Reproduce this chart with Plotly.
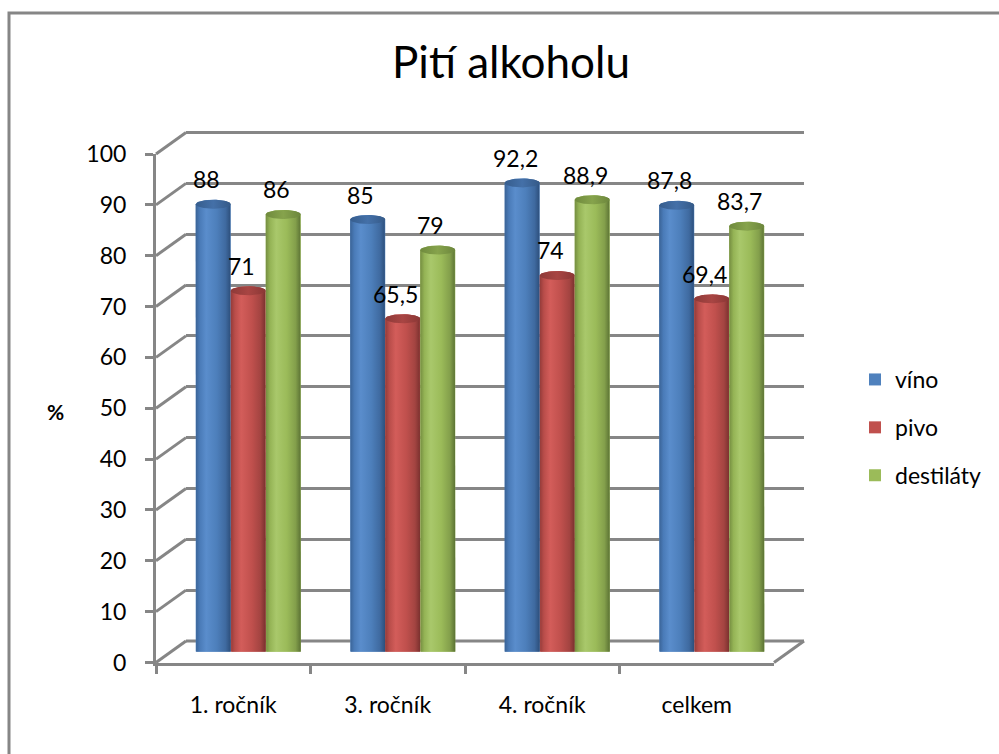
import numpy as np
import plotly.graph_objects as go

# ---- data ----
categories = ["1. ročník", "3. ročník", "4. ročník", "celkem"]
series_names = ["víno", "pivo", "destiláty"]
vino = [88, 85, 92.2, 87.8]
pivo = [71, 65.5, 74, 69.4]
destilaty = [86, 79, 88.9, 83.7]
y_ticks = list(range(0, 101, 10))
title_text = "Pití alkoholu"
y_label = "%"

series_values = [vino, pivo, destilaty]

# ---- styling ----
W, H = 999, 754
FONT = "Lato"
GRAY = "#868686"
BASE_COLORS = ["#4F81BD", "#C0504D", "#9BBB59"]
BODY_SCALES = [
    [[0, "#3a6396"], [0.12, "#4a7bb8"], [0.3, "#5a8dcc"], [0.6, "#4d7fbb"], [0.85, "#3f6aa0"], [1, "#2c4e7a"]],
    [[0, "#933b39"], [0.12, "#b94d4a"], [0.3, "#d35d5a"], [0.6, "#c0504d"], [0.85, "#a34441"], [1, "#79302e"]],
    [[0, "#748d40"], [0.12, "#94b355"], [0.3, "#a9c86b"], [0.6, "#9bbb59"], [0.85, "#839f4b"], [1, "#5b7234"]],
]
CAP_SCALES = [
    [[0, "#365d8d"], [0.5, "#4470a8"], [1, "#355a88"]],
    [[0, "#8e3a38"], [0.5, "#a84543"], [1, "#8a3735"]],
    [[0, "#6f8a3d"], [0.5, "#86a34c"], [1, "#6c863c"]],
]

BARGAP = 0.32
BAR_W = (1 - BARGAP) / len(series_names)   # width of one cylinder in category units
CAP_PX = 4.5                               # half-height of the elliptical caps in pixels

# front plane of the 3-D frame (pixels): left, right, y of 0, y of 100
FX0, FX1, FY0, FY1 = 156, 774, 662.5, 154
DX, DY = 30, -21.5                         # depth offset of the back wall
Y_MAX = 100.0
px_per_unit = (FY0 - FY1) / Y_MAX
cap_units = CAP_PX / px_per_unit


def to_px(x):
    return x / W


def to_py(y):
    return 1 - y / H


def dom_x(shift):
    return [to_px(FX0 + shift), to_px(FX1 + shift)]


def dom_y(shift):
    return [to_py(FY0 + shift), to_py(FY1 + shift)]


def front_y(v):
    """Pixel row of value v on the front plane."""
    return FY0 - v * px_per_unit


fig = go.Figure()

# invisible trace that registers the categories on the front axis
fig.add_trace(go.Scatter(x=categories, y=[0] * len(categories), mode="markers",
                         marker=dict(opacity=0), showlegend=False, hoverinfo="skip",
                         xaxis="x", yaxis="y"))
# empty trace so the back-wall subplot (and its gridlines) gets drawn
fig.add_trace(go.Scatter(x=[None], y=[None], mode="markers", showlegend=False,
                         hoverinfo="skip", xaxis="x2", yaxis="y2"))

# flat bars (legend entries and the base of each cylinder)
for k, (name, vals) in enumerate(zip(series_names, series_values)):
    fig.add_trace(go.Bar(x=list(range(len(categories))), y=vals, name=name,
                         marker=dict(color=BASE_COLORS[k], line=dict(width=0)),
                         offsetgroup=str(k), legendgroup=name,
                         xaxis="x3", yaxis="y3", hoverinfo="skip"))

# cylinder shading
t_top = np.linspace(0, np.pi, 40)
t_bot = np.linspace(np.pi, 2 * np.pi, 40)
t_full = np.linspace(0, 2 * np.pi, 80)
for k, vals in enumerate(series_values):
    hw = BAR_W / 2
    for i, v in enumerate(vals):
        xc = i + (k - 1) * BAR_W
        bx = np.concatenate([[xc + hw], xc + hw * np.cos(t_top), [xc - hw], xc + hw * np.cos(t_bot)])
        by = np.concatenate([[0], v + cap_units * np.sin(t_top), [0], cap_units * np.sin(t_bot)])
        fig.add_trace(go.Scatter(x=bx, y=by, mode="lines", line=dict(width=0),
                                 fill="toself", fillcolor=BASE_COLORS[k],
                                 fillgradient=dict(type="horizontal", colorscale=BODY_SCALES[k]),
                                 showlegend=False, hoverinfo="skip", xaxis="x3", yaxis="y3"))
        cx = xc + hw * np.cos(t_full)
        cy = v + cap_units * np.sin(t_full)
        fig.add_trace(go.Scatter(x=cx, y=cy, mode="lines", line=dict(width=0),
                                 fill="toself", fillcolor=BASE_COLORS[k],
                                 fillgradient=dict(type="horizontal", colorscale=CAP_SCALES[k]),
                                 showlegend=False, hoverinfo="skip", xaxis="x3", yaxis="y3"))

# value labels
annotations = []
for k, vals in enumerate(series_values):
    for i, v in enumerate(vals):
        annotations.append(dict(x=i + (k - 1) * BAR_W, y=v, xref="x3", yref="y3",
                                text=f"{v:g}".replace(".", ","), showarrow=False,
                                xanchor="center", yanchor="bottom", yshift=9, xshift=-7,
                                font=dict(family=FONT, size=23, color="black")))

annotations.append(dict(x=to_px(55), y=to_py(411), xref="paper", yref="paper", text=f"<b>{y_label}</b>",
                        xanchor="center", yanchor="middle", showarrow=False,
                        font=dict(family=FONT, size=21, color="black")))

# frame: side wall diagonals, the right edge of the floor and the back edges at 0 and 100
frame_line = dict(color=GRAY, width=3)
shapes = []
for v in y_ticks:
    shapes.append(dict(type="line", xref="paper", yref="paper",
                       x0=to_px(FX0), y0=to_py(front_y(v)),
                       x1=to_px(FX0 + DX), y1=to_py(front_y(v) + DY),
                       line=frame_line, layer="below"))
shapes.append(dict(type="line", xref="paper", yref="paper",
                   x0=to_px(FX1), y0=to_py(front_y(0)),
                   x1=to_px(FX1 + DX), y1=to_py(front_y(0) + DY),
                   line=frame_line, layer="below"))
for v in (y_ticks[0], y_ticks[-1]):
    shapes.append(dict(type="line", xref="paper", yref="paper",
                       x0=to_px(FX0 + DX), y0=to_py(front_y(v) + DY),
                       x1=to_px(FX1 + DX), y1=to_py(front_y(v) + DY),
                       line=frame_line, layer="below"))
# outer chart border
shapes.append(dict(type="rect", xref="paper", yref="paper", x0=to_px(9), x1=1.2, y0=-0.2, y1=to_py(13),
                   line=frame_line, fillcolor="rgba(0,0,0,0)", layer="below"))

xr = [-0.5, len(categories) - 0.5]
fig.update_layout(
    width=W, height=H, autosize=False,
    margin=dict(l=0, r=0, t=0, b=0, autoexpand=False),
    paper_bgcolor="white", plot_bgcolor="rgba(0,0,0,0)",
    font=dict(family=FONT, size=23, color="black"),
    barmode="group", bargap=BARGAP, bargroupgap=0,
    title=dict(text=title_text, x=to_px(511), xanchor="center", y=to_py(63), yanchor="middle",
               font=dict(family=FONT, size=44, color="black")),
    showlegend=True,
    legend=dict(x=to_px(855), y=to_py(358), xanchor="left", yanchor="top",
                font=dict(family=FONT, size=23, color="black"),
                tracegroupgap=15, bgcolor="rgba(0,0,0,0)", traceorder="grouped"),
    # front plane
    xaxis=dict(domain=dom_x(0), type="category", categoryarray=categories, categoryorder="array",
               range=xr, tickson="boundaries", ticks="outside", ticklen=8, tickwidth=3, tickcolor=GRAY,
               showline=True, linecolor=GRAY, linewidth=3, showgrid=False, zeroline=False,
               ticklabelstandoff=20, tickfont=dict(family=FONT, size=23, color="black"),
               anchor="y", fixedrange=True, automargin=False),
    yaxis=dict(domain=dom_y(0), range=[0, Y_MAX], tickvals=y_ticks, ticks="outside", ticklen=8,
               tickwidth=3, tickcolor=GRAY, showline=True, linecolor=GRAY, linewidth=3,
               showgrid=False, zeroline=False, ticklabelstandoff=14,
               tickfont=dict(family=FONT, size=23, color="black"), anchor="x", fixedrange=True,
               automargin=False),
    # back wall
    xaxis2=dict(domain=dom_x(DX), range=xr, visible=False, anchor="y2", fixedrange=True),
    yaxis2=dict(domain=dom_y(DY), range=[0, Y_MAX], tickvals=y_ticks, showgrid=True, gridcolor=GRAY,
                gridwidth=3, showticklabels=False, ticks="", zeroline=False, showline=False,
                anchor="x2", fixedrange=True),
    # mid depth, where the cylinders stand
    xaxis3=dict(domain=dom_x(DX / 2), range=xr, visible=False, anchor="y3", fixedrange=True),
    yaxis3=dict(domain=dom_y(DY / 2), range=[0, Y_MAX], visible=False, anchor="x3", fixedrange=True),
    annotations=annotations,
    shapes=shapes,
)

fig.write_html("out.html")
